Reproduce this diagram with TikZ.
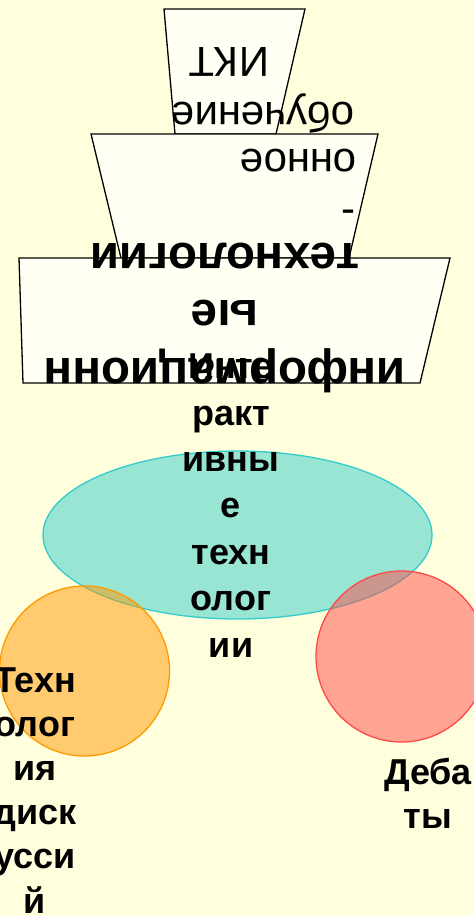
\documentclass[tikz,border=0pt]{standalone}
\usepackage{fontspec}
\setmainfont{Liberation Sans}
\definecolor{cream}{HTML}{FFFFDD}
\definecolor{paper}{HTML}{FFFFF4}
\definecolor{sea}{HTML}{33CCCC}
\definecolor{amber}{HTML}{FF9900}
\definecolor{coral}{HTML}{FF4848}

\begin{document}
\begin{tikzpicture}
  [x=1pt,y=-1pt,
   slab/.style={draw=black,line width=1.3pt,fill=paper},
   blob/.style={line width=1.3pt,fill opacity=.5},
   flip/.style={rotate=180,anchor=base,inner sep=0pt},
   thin/.style={font=\fontsize{42}{50}\selectfont},
   fat/.style={font=\fontsize{47.5}{57}\selectfont\bfseries},
   word/.style={anchor=base,inner sep=0pt,font=\fontsize{36}{44}\selectfont\bfseries}]
  \useasboundingbox (0,0) rectangle (474,916);
  \fill[cream] (0,0) rectangle (474,916);

  % trapezoids
  \draw[slab] (164,9) -- (305,9) -- (276,134) -- (175,134) -- cycle;
  \draw[slab] (91,134) -- (378,134) -- (349,258) -- (121,258) -- cycle;
  \draw[slab] (19,258) -- (450,258) -- (420,383) -- (23,383) -- cycle;

  % ellipse and circles
  \draw[blob,draw=sea,fill=sea] (237.5,535) ellipse (194.5 and 84);
  \draw[blob,draw=amber,fill=amber] (84.5,671) circle (85);
  \draw[blob,draw=coral,fill=coral] (401.5,656.5) circle (85.5);

  % upside-down texts
  \node[flip,thin] (ikt) at (229,47) {ИКТ};
  \node[flip,thin] (obuch) at (263,102) {обучение};
  \node[flip,thin] (onnoe) at (298.5,149) {онное};
  \node[flip,thin] (dash) at (348.5,200) {-};
  \node[flip,fat] (tech) at (225,243) {технологии};
  \node[flip,fat] (ye) at (225,300) {ые};
  \node[flip,fat] (inform) at (225,358) {информационн};

  % upright texts
  \foreach \txt [count=\i] in {Инте,ракт,ивны,е,техн,олог,ии}
    \node[word] (inter\i) at (231,{332.2+46.4*\i}) {\txt};
  \foreach \txt [count=\i] in {Техн,олог,ия,диск,усси,й}
    \node[word] (disc\i) at (35,{647.8+44.2*\i}) {\txt};
  \node[word] (deb1) at (428,784) {Деба};
  \node[word] (deb2) at (428,828) {ты};
\end{tikzpicture}
\end{document}
